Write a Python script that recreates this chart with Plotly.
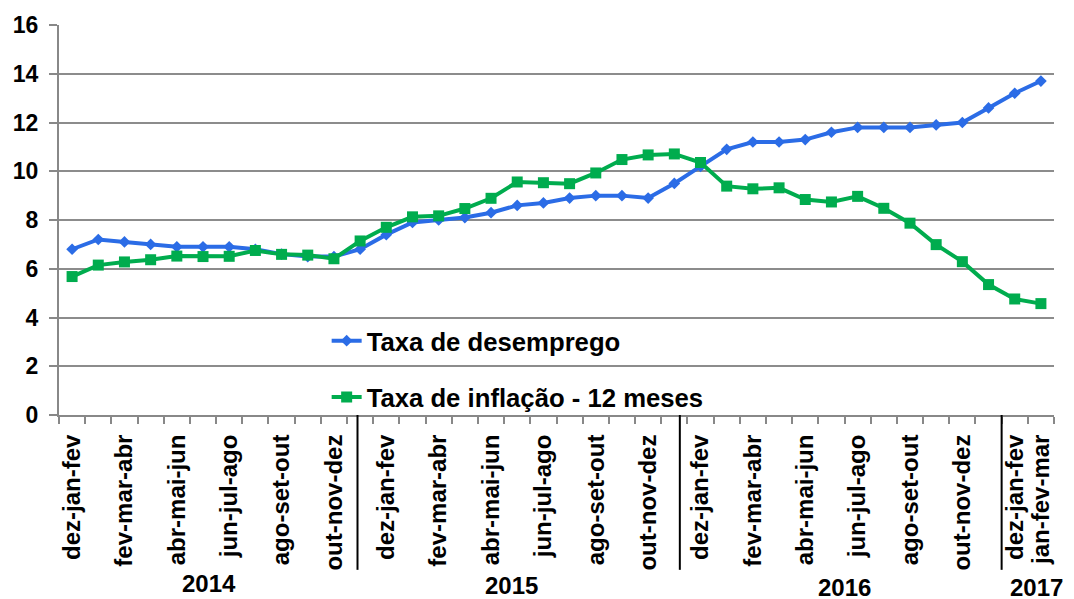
import plotly.graph_objects as go

categories = [
    # 2014
    "dez-jan-fev", "jan-fev-mar", "fev-mar-abr", "mar-abr-mai", "abr-mai-jun", "mai-jun-jul",
    "jun-jul-ago", "jul-ago-set", "ago-set-out", "set-out-nov", "out-nov-dez",
    # 2015
    "nov-dez-jan", "dez-jan-fev", "jan-fev-mar", "fev-mar-abr", "mar-abr-mai", "abr-mai-jun",
    "mai-jun-jul", "jun-jul-ago", "jul-ago-set", "ago-set-out", "set-out-nov", "out-nov-dez",
    # 2016
    "nov-dez-jan", "dez-jan-fev", "jan-fev-mar", "fev-mar-abr", "mar-abr-mai", "abr-mai-jun",
    "mai-jun-jul", "jun-jul-ago", "jul-ago-set", "ago-set-out", "set-out-nov", "out-nov-dez",
    # 2017
    "nov-dez-jan", "dez-jan-fev", "jan-fev-mar",
]
shown_idx = [0, 2, 4, 6, 8, 10, 12, 14, 16, 18, 20, 22, 24, 26, 28, 30, 32, 34, 36, 37]
shown_labels = [categories[i] for i in shown_idx]
years = ["2014", "2015", "2016", "2017"]
year_pos = [5.24, 16.79, 29.5, 36.85]
year_y = [-0.431, -0.437, -0.442, -0.442]
year_sep = [10.9, 23.21, 35.5]

desemprego = [6.8, 7.2, 7.1, 7.0, 6.9, 6.9, 6.9, 6.8, 6.6, 6.5, 6.5,
              6.8, 7.4, 7.9, 8.0, 8.1, 8.3, 8.6, 8.7, 8.9, 9.0, 9.0, 8.9,
              9.5, 10.2, 10.9, 11.2, 11.2, 11.3, 11.6, 11.8, 11.8, 11.8, 11.9, 12.0,
              12.6, 13.2, 13.7]
inflacao = [5.68, 6.15, 6.28, 6.37, 6.52, 6.50, 6.51, 6.75, 6.59, 6.56, 6.41,
            7.14, 7.70, 8.13, 8.17, 8.47, 8.89, 9.56, 9.53, 9.49, 9.93, 10.48, 10.67,
            10.71, 10.36, 9.39, 9.28, 9.32, 8.84, 8.74, 8.97, 8.48, 7.87, 6.99, 6.29,
            5.35, 4.76, 4.57]

x = list(range(len(categories)))
BLUE = "#2B6CE6"
GREEN = "#00AC4E"
FONT = "Liberation Sans, Arial, sans-serif"

fig = go.Figure()
fig.add_trace(go.Scatter(
    x=x, y=desemprego, mode="lines+markers", name="<b>Taxa de desemprego</b>",
    line=dict(color=BLUE, width=4), marker=dict(symbol="diamond", size=9, color=BLUE),
    legendgroup="a",
))
fig.add_trace(go.Scatter(
    x=x, y=inflacao, mode="lines+markers", name="<b>Taxa de inflação - 12 meses</b>",
    line=dict(color=GREEN, width=4), marker=dict(symbol="square", size=11, color=GREEN),
    legendgroup="b",
))

for xs in year_sep:
    fig.add_shape(type="line", xref="x", yref="paper", x0=xs, x1=xs, y0=0, y1=-0.397,
                  line=dict(color="black", width=2))
for yr, xp, yp in zip(years, year_pos, year_y):
    fig.add_annotation(text=f"<b>{yr}</b>", x=xp, xref="x", y=yp, yref="paper",
                       showarrow=False, font=dict(size=24, color="black", family=FONT),
                       yanchor="middle", xanchor="center")

fig.update_layout(
    width=1074, height=599,
    margin=dict(l=51, r=28, t=17, b=192, autoexpand=False),
    paper_bgcolor="white", plot_bgcolor="white",
    font=dict(family=FONT, color="black"),
    showlegend=True,
    legend=dict(x=0.269, y=0.25, xanchor="left", yanchor="top",
                font=dict(size=25.7, color="black", family=FONT),
                bgcolor="rgba(0,0,0,0)", tracegroupgap=20, traceorder="grouped"),
    xaxis=dict(
        automargin=False,
        range=[-0.5, len(categories) - 0.5],
        tickmode="array", tickvals=shown_idx, ticktext=[f"<b>{t}</b>" for t in shown_labels],
        tickangle=-90, ticks="", tickfont=dict(size=24, color="black", family=FONT),
        ticklabelstandoff=8,
        showgrid=False, showline=True, linecolor="#888888", linewidth=2, zeroline=False,
        minor=dict(tick0=-0.5, dtick=1, ticks="outside", ticklen=7, tickcolor="#888888",
                   tickwidth=2, showgrid=False),
    ),
    yaxis=dict(
        automargin=False,
        range=[0, 16], dtick=2, tick0=0,
        showgrid=True, gridcolor="#8C8C8C", gridwidth=2,
        showline=True, linecolor="#888888", linewidth=2, zeroline=False,
        ticks="outside", ticklen=8, tickcolor="#888888", tickwidth=2,
        tickfont=dict(size=23, color="black", family=FONT),
        ticklabelstandoff=6,
        tickprefix="<b>", ticksuffix="</b>",
    ),
)

fig.write_html("out.html")
